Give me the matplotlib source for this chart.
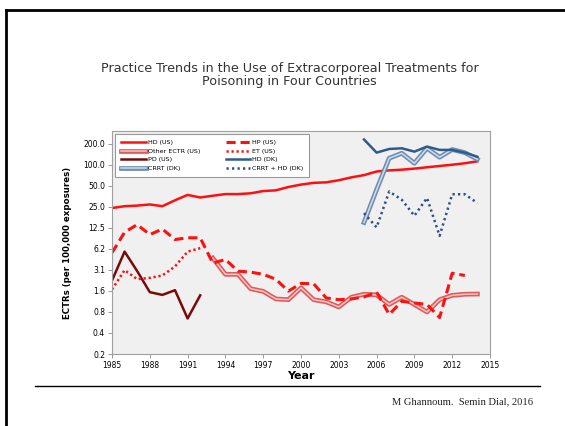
import numpy as np
import matplotlib.pyplot as plt
import matplotlib.patheffects as pe
from matplotlib.lines import Line2D

years_us = np.arange(1985, 2015)
hd_us = [24, 25.5, 26, 27, 25.5, 31, 37, 34, 36, 38, 38, 39, 42, 43, 48, 52, 55, 56, 60, 66, 71, 80, 83, 85, 88, 92, 96, 100, 105, 112]

years_hp = np.arange(1985, 2014)
hp_us = [5.5, 10.8, 13.9, 10.0, 12.0, 8.5, 9.0, 9.0, 3.9, 4.4, 3.0, 2.9, 2.7, 2.3, 1.55, 2.0, 1.98, 1.24, 1.17, 1.2, 1.28, 1.5, 0.72, 1.11, 1.05, 1.0, 0.65, 2.8, 2.6]

years_et = np.arange(1985, 1993)
et_us = [1.64, 3.1, 2.3, 2.4, 2.6, 3.5, 5.7, 6.4]

years_pd = np.arange(1985, 1993)
pd_us = [2.2, 5.7, 3.0, 1.5, 1.37, 1.6, 0.63, 1.35]

years_other = np.arange(1993, 2015)
other_us = [4.6, 2.7, 2.7, 1.68, 1.54, 1.2, 1.17, 1.73, 1.17, 1.09, 0.92, 1.27, 1.4, 1.37, 1.0, 1.27, 1.0, 0.78, 1.17, 1.35, 1.4, 1.41]

years_dk = np.arange(2005, 2015)
hd_dk = [230, 149, 168, 172, 154, 182, 163, 163, 149, 130]
crrt_dk = [14.9, 44, 124, 146, 105, 172, 128, 165, 149, 120]
crrt_hd_dk = [20.3, 12.7, 41.4, 31.5, 18.6, 33.5, 9.6, 37.8, 37.8, 28.3]

yticks = [200 / 2 ** k for k in range(11)]
xticks = np.arange(1985, 2016, 3)

fig = plt.figure(figsize=(5.65, 4.26), dpi=100)

# slide frame, title, footer
fig.add_artist(Line2D([6 / 565, 6 / 565], [0, 1 - 10 / 426], color='black', lw=2))
fig.add_artist(Line2D([6 / 565, 1], [1 - 10 / 426, 1 - 10 / 426], color='black', lw=2))
fig.text(0.513, 1 - 75 / 426, "Practice Trends in the Use of Extracorporeal Treatments for\nPoisoning in Four Countries",
         ha='center', va='center', fontsize=9.2, color='#333333', linespacing=1.05)
fig.add_artist(Line2D([35 / 565, 540 / 565], [1 - 386 / 426, 1 - 386 / 426], color='black', lw=1))
fig.text(533 / 565, 1 - 402 / 426, "M Ghannoum.  Semin Dial, 2016", ha='right', va='center',
         fontsize=7.6, family='Liberation Serif', color='#222222')

ax = fig.add_axes([112 / 565, 72 / 426, 378 / 565, 223 / 426])
ax.set_facecolor('#f0f0f0')

red = '#ff1010'
double_red = [pe.Stroke(linewidth=3.4, foreground='#e05a5a'), pe.Normal()]
double_blue = [pe.Stroke(linewidth=3.4, foreground='#6d8db3'), pe.Normal()]

h1, = ax.plot(years_us, hd_us, color=red, lw=1.8, label='HD (US)')
h2, = ax.plot(years_other, other_us, color='#f6c4c4', lw=1.1, path_effects=double_red, label='Other ECTR (US)')
h3, = ax.plot(years_pd, pd_us, color='#7a0a0a', lw=1.8, label='PD (US)')
h4, = ax.plot(years_dk, crrt_dk, color='#d2dcea', lw=1.1, path_effects=double_blue, label='CRRT (DK)')
h5, = ax.plot(years_hp, hp_us, color=red, lw=2.2, dashes=(3, 1.6), label='HP (US)')
h6, = ax.plot(years_et, et_us, color=red, lw=1.8, dashes=(0.9, 1.1), label='ET (US)')
h7, = ax.plot(years_dk, hd_dk, color='#2f5b8c', lw=1.8, label='HD (DK)')
h8, = ax.plot(years_dk, crrt_hd_dk, color='#2f4f7f', lw=1.8, dashes=(0.9, 1.3), label='CRRT + HD (DK)')

ax.set_yscale('log')
ax.set_ylim(yticks[-1], 304)
ax.set_xlim(1985, 2015)
ax.set_yticks(yticks)
ax.set_yticklabels(['%.1f' % v for v in yticks])
ax.minorticks_off()
ax.set_xticks(xticks)
ax.tick_params(labelsize=5.5, length=3, width=0.6, color='#888888', pad=2)
for s in ax.spines.values():
    s.set_color('#a0a0a0')
    s.set_linewidth(0.8)

ax.set_xlabel('Year', fontsize=8, fontweight='bold', labelpad=1)
ax.set_ylabel('ECTRs (per 100,000 exposures)', fontsize=6.2, fontweight='bold', labelpad=8)

leg = ax.legend(handles=[h1, h2, h3, h4, h5, h6, h7, h8], ncol=2, loc='upper left',
                bbox_to_anchor=(0.008, 0.987), fontsize=4.6, handlelength=3.9, columnspacing=4.0,
                labelspacing=0.5, handletextpad=0.3, borderpad=0.9, fancybox=False, framealpha=1,
                edgecolor='#999999', borderaxespad=0)
leg.get_frame().set_linewidth(0.8)

plt.savefig('out.png', dpi=100)
